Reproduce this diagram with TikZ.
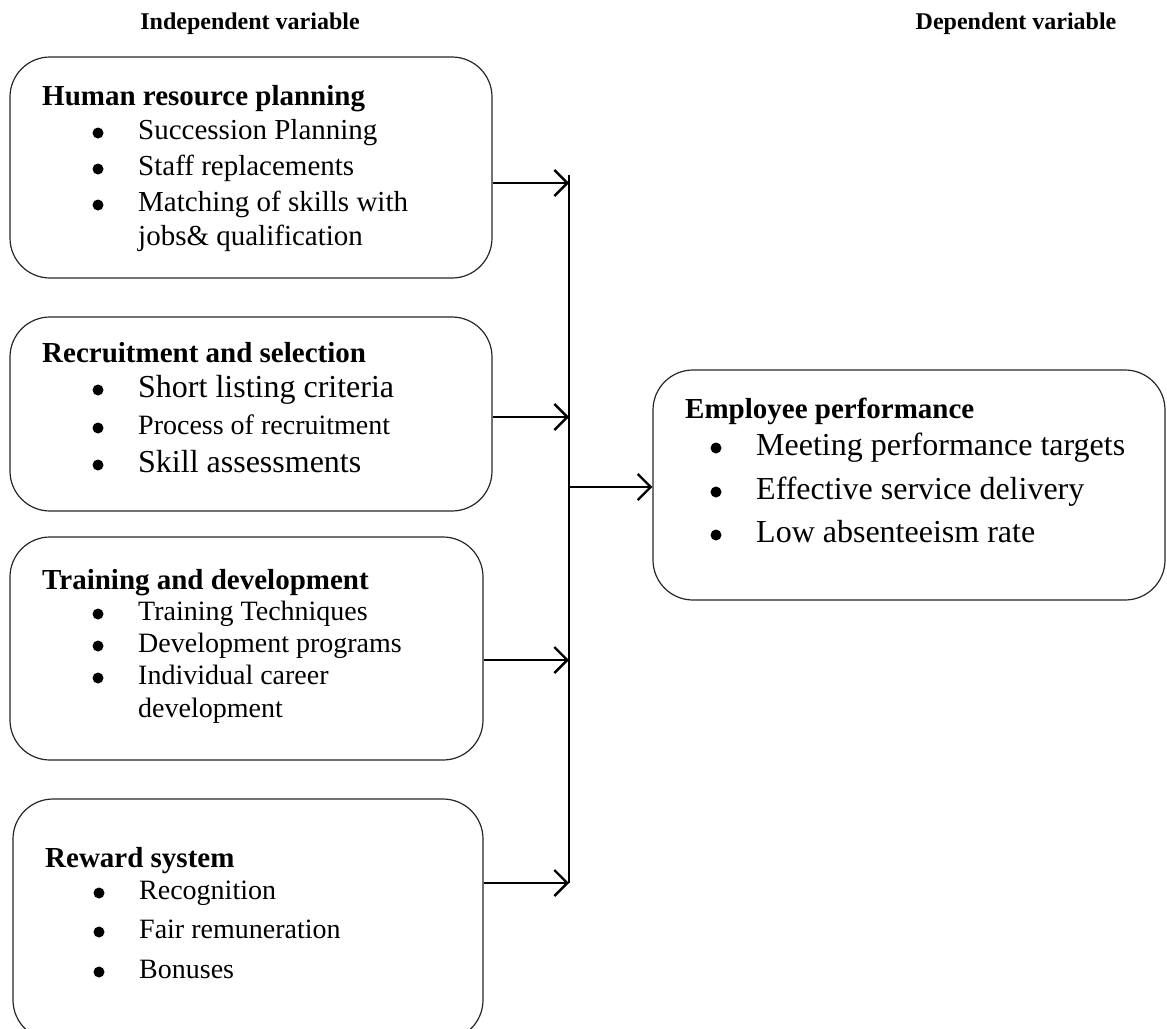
\documentclass[tikz,border=0pt]{standalone}
\usepackage{fontspec}
\setmainfont{Liberation Serif}
\usetikzlibrary{calc}
\usetikzlibrary{positioning}
\usetikzlibrary{arrows.meta}
\newcommand{\drawItem}[4]{
	%Bullet first, then its text a little to the right (baseline below the dot)
	\node[Dot] (#1Dot) at (#2) {};
	\node[Item, font=\fontsize{#3}{#3}\selectfont] (#1) at ($(#2) + (40,0.24*#3)$) {#4};
}

\begin{document}
\begin{tikzpicture}[x=1pt, y=-1pt]
		\tikzstyle{Box} = [draw=black!85, line width=1.2pt, rounded corners=40pt, inner sep=0pt]
		\tikzstyle{Head} = [inner sep=0pt, font=\fontsize{24}{28}\selectfont\bfseries]
		\tikzstyle{Title} = [anchor=base west, inner sep=0pt, font=\fontsize{29}{34}\selectfont\bfseries]
		\tikzstyle{Item} = [anchor=base west, inner sep=0pt]
		\tikzstyle{Dot} = [circle, fill=black, inner sep=0pt, minimum size=11pt]
		\tikzstyle{Link} = [line width=2.4pt, -{Straight Barb[length=13pt,width=26pt]}]
		\tikzstyle{Bus} = [line width=2.4pt]

		\useasboundingbox (0,0) rectangle (1167,1028);

		%Headings
		\node[Head] (IndepHead) at (250,24) {Independent variable};
		\node[Head] (DepHead) at (1016,24) {Dependent variable};

		%Draw boxes
		\node[Box, minimum width=482pt, minimum height=221pt] (HRP) at (251,167.5) {};
		\node[Box, minimum width=482pt, minimum height=194pt] (Recruit) at (251,414) {};
		\node[Box, minimum width=473pt, minimum height=223pt] (Train) at (246.5,648.5) {};
		\node[Box, minimum width=470pt, minimum height=241pt] (Reward) at (248,919.5) {};
		\node[Box, minimum width=512pt, minimum height=230pt] (Perf) at (909,485) {};

		%Human resource planning
		\node[Title] (HRPTitle) at (42,105) {Human resource planning};
		\drawItem{HRPa}{98,133}{29}{Succession Planning}
		\drawItem{HRPb}{98,169}{29}{Staff replacements}
		\drawItem{HRPc}{98,205}{29}{Matching of skills with}
		\node[Item, font=\fontsize{29}{29}\selectfont] (HRPd) at (138,245) {jobs\& qualification};

		%Recruitment and selection
		\node[Title] (RecTitle) at (42,362) {Recruitment and selection};
		\drawItem{Reca}{98,390}{32}{Short listing criteria}
		\drawItem{Recb}{98,428}{28}{Process of recruitment}
		\drawItem{Recc}{98,465}{32}{Skill assessments}

		%Training and development
		\node[Title] (TrainTitle) at (42,589) {Training and development};
		\drawItem{Traina}{98,614}{28}{Training Techniques}
		\drawItem{Trainb}{98,646}{28}{Development programs}
		\drawItem{Trainc}{98,678}{28}{Individual career}
		\node[Item, font=\fontsize{28}{28}\selectfont] (Traind) at (138,717) {development};

		%Reward system
		\node[Title] (RewTitle) at (45,867) {Reward system};
		\drawItem{Rewa}{99,893}{28}{Recognition}
		\drawItem{Rewb}{99,932}{28}{Fair remuneration}
		\drawItem{Rewc}{99,972}{28}{Bonuses}

		%Employee performance
		\node[Title] (PerfTitle) at (685,418) {Employee performance};
		\drawItem{Perfa}{716,448}{32}{Meeting performance targets}
		\drawItem{Perfb}{716,492}{32}{Effective service delivery}
		\drawItem{Perfc}{716,535}{32}{Low absenteeism rate}

		%Collecting line
		\coordinate (BusTop) at (569,175);
		\coordinate (B1) at (569,183);
		\coordinate (B2) at (569,417);
		\coordinate (B3) at (569,660);
		\coordinate (B4) at (569,883);
		\coordinate (B5) at (569,487);
		\draw[Bus] (BusTop) -- (B4);

		%Draw arrows
		\draw[Link] (HRP.east |- B1) -- (B1);
		\draw[Link] (Recruit.east |- B2) -- (B2);
		\draw[Link] (Train.east |- B3) -- (B3);
		\draw[Link] (Reward.east |- B4) -- (B4);
		\draw[Link] (B5) -- (Perf.west |- B5);
\end{tikzpicture}
\end{document}
